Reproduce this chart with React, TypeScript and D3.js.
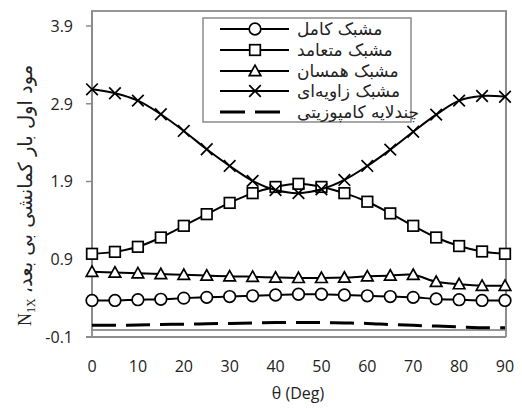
import React from "react";
import * as d3 from "d3";

const angles = [0, 5, 10, 15, 20, 25, 30, 35, 40, 45, 50, 55, 60, 65, 70, 75, 80, 85, 90];
const fullMesh = [0.37, 0.37, 0.38, 0.385, 0.40, 0.41, 0.42, 0.43, 0.44, 0.45, 0.45, 0.44, 0.43, 0.42, 0.41, 0.39, 0.38, 0.37, 0.37];
const orthoMesh = [0.97, 0.995, 1.06, 1.18, 1.33, 1.48, 1.625, 1.75, 1.83, 1.87, 1.83, 1.75, 1.64, 1.49, 1.33, 1.18, 1.07, 1.0, 0.97];
const isoMesh = [0.74, 0.73, 0.72, 0.71, 0.70, 0.69, 0.68, 0.675, 0.665, 0.66, 0.66, 0.665, 0.68, 0.69, 0.70, 0.61, 0.58, 0.56, 0.56];
const angleMesh = [3.086, 3.035, 2.94, 2.765, 2.55, 2.315, 2.10, 1.908, 1.79, 1.75, 1.80, 1.92, 2.10, 2.31, 2.54, 2.76, 2.94, 3.0, 2.99];
const composite = [0.05, 0.05, 0.055, 0.06, 0.065, 0.07, 0.075, 0.08, 0.085, 0.085, 0.085, 0.08, 0.075, 0.06, 0.05, 0.04, 0.03, 0.02, 0.02];

const yTicks = [-0.1, 0.9, 1.9, 2.9, 3.9];
const xTicks = [0, 10, 20, 30, 40, 50, 60, 70, 80, 90];
const legendLabels = ["مشبک کامل", "مشبک متعامد", "مشبک همسان", "مشبک زاویه\u200cای", "چندلایه کامپوزیتی"];
const yTitle = "مود اول بار کمانشی بی بعد،";
const xTitle = "θ (Deg)";

const x = d3.scaleLinear().domain([0, 90]).range([92, 505]);
const y = d3.scaleLinear().domain([-0.1, 3.9]).range([337, 26]);

const line = d3
  .line<number>()
  .x((_, i) => x(angles[i]))
  .y((d) => y(d))
  .curve(d3.curveCatmullRom.alpha(0.5));

type Kind = "circle" | "square" | "triangle" | "cross";

function Marker({ kind, cx, cy }: { kind: Kind; cx: number; cy: number }) {
  const s = { fill: "white", stroke: "black", strokeWidth: 1.7 };
  if (kind === "circle") return <circle cx={cx} cy={cy} r={5.8} {...s} />;
  if (kind === "square") return <rect x={cx - 5.3} y={cy - 5.3} width={10.6} height={10.6} {...s} />;
  if (kind === "triangle")
    return <path d={`M${cx},${cy - 5.8}L${cx + 5.8},${cy + 4.6}L${cx - 5.8},${cy + 4.6}Z`} {...s} />;
  return (
    <path
      d={`M${cx - 5.8},${cy - 5.8}L${cx + 5.8},${cy + 5.8}M${cx - 5.8},${cy + 5.8}L${cx + 5.8},${cy - 5.8}`}
      stroke="black"
      strokeWidth={1.7}
      fill="none"
    />
  );
}

const series: { data: number[]; kind: Kind | null }[] = [
  { data: fullMesh, kind: "circle" },
  { data: orthoMesh, kind: "square" },
  { data: isoMesh, kind: "triangle" },
  { data: angleMesh, kind: "cross" },
  { data: composite, kind: null },
];

export default function App() {
  const gray = "#8c8c8c";
  const tickFont = "'Open Sans', sans-serif";
  const legendRows = [29, 50, 71, 91, 112];
  return (
    <div style={{ position: "fixed", left: 0, top: 0 }}>
      <svg width={522} height={409} style={{ display: "block", background: "white" }}>
        <rect x={92} y={11} width={414} height={319} fill="none" stroke={gray} strokeWidth={1.8} />
        <line x1={92} y1={11} x2={92} y2={337} stroke={gray} strokeWidth={1.8} />
        <line x1={86} y1={337} x2={506} y2={337} stroke={gray} strokeWidth={1.8} />
        <line x1={506} y1={11} x2={506} y2={337} stroke={gray} strokeWidth={1.8} />
        {yTicks.map((t) => (
          <g key={t}>
            <line x1={86} x2={92} y1={y(t)} y2={y(t)} stroke={gray} strokeWidth={1.5} />
            <text x={73} y={y(t)} dy="0.36em" textAnchor="end" fontFamily={tickFont} fontSize={16} fill="#222">
              {t.toFixed(1)}
            </text>
          </g>
        ))}
        {xTicks.map((t) => (
          <text key={t} x={x(t)} y={372} textAnchor="middle" fontFamily={tickFont} fontSize={16} fill="#222">
            {t}
          </text>
        ))}
        <text x={298} y={399} textAnchor="middle" fontFamily={tickFont} fontSize={16} fill="#222">
          {xTitle}
        </text>
        <text
          transform="translate(32,179) rotate(-90)"
          textAnchor="middle"
          direction="rtl"
          fontFamily="'DejaVu Sans', sans-serif"
          fontSize={19.5}
          fill="#222"
        >
          {yTitle}
        </text>
        <text transform="translate(31,326) rotate(-90)" fontFamily="'Liberation Serif', serif" fontSize={18} fill="#222">
          N
          <tspan fontSize={12} dy={4}>
            1X
          </tspan>
        </text>
        {series.map((s, i) => (
          <g key={i}>
            <path
              d={line(s.data) || ""}
              fill="none"
              stroke="black"
              strokeWidth={s.kind ? 2 : 3}
              strokeDasharray={s.kind ? undefined : "24,10"}
            />
            {s.kind && s.data.map((v, j) => <Marker key={j} kind={s.kind as Kind} cx={x(angles[j])} cy={y(v)} />)}
          </g>
        ))}
        <rect x={203} y={18} width={208} height={104} fill="white" stroke={gray} strokeWidth={1.5} />
        {series.map((s, i) => (
          <g key={i}>
            <line
              x1={220}
              x2={s.kind ? 289 : 280}
              y1={legendRows[i]}
              y2={legendRows[i]}
              stroke="black"
              strokeWidth={s.kind ? 2 : 3}
              strokeDasharray={s.kind ? undefined : "25,10"}
            />
            {s.kind && <Marker kind={s.kind} cx={255} cy={legendRows[i]} />}
            <text
              x={297}
              y={legendRows[i]}
              dy="0.35em"
              fontFamily="'DejaVu Sans', sans-serif"
              fontSize={17}
              fill="#222"
            >
              {legendLabels[i]}
            </text>
          </g>
        ))}
      </svg>
    </div>
  );
}
